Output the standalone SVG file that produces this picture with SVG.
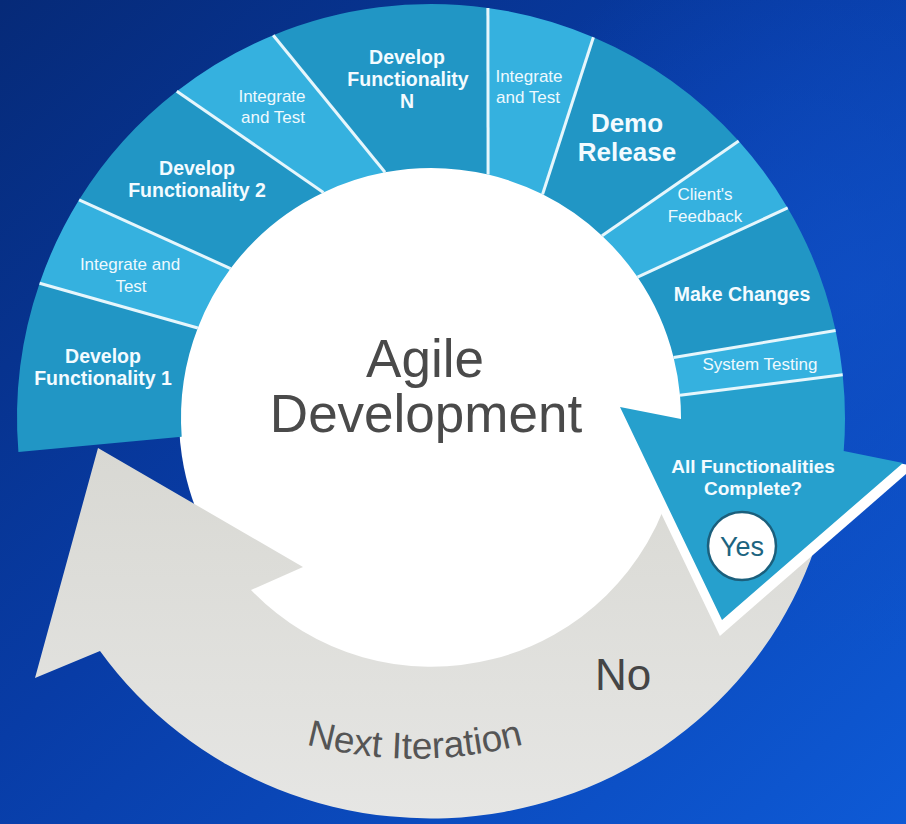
<svg xmlns="http://www.w3.org/2000/svg" width="906" height="824" viewBox="0 0 906 824">
<defs>
<linearGradient id="bg" x1="0" y1="0" x2="1" y2="1">
<stop offset="0" stop-color="#062a78"/>
<stop offset="0.45" stop-color="#083ca6"/>
<stop offset="1" stop-color="#0e5ad6"/>
</linearGradient>
<radialGradient id="glow" cx="0.95" cy="0.35" r="0.45">
<stop offset="0" stop-color="#1050c8" stop-opacity="0.7"/>
<stop offset="1" stop-color="#1050c8" stop-opacity="0"/>
</radialGradient>
<linearGradient id="gray" x1="0" y1="0" x2="0" y2="1">
<stop offset="0" stop-color="#d8d8d3"/>
<stop offset="1" stop-color="#e6e6e4"/>
</linearGradient>
<style>
.dark{fill:#2196c5}
.light{fill:#35b1df}
.sep{stroke:#e6f6fc;stroke-width:3;fill:none}
.b{font-family:"Liberation Sans",Arial,sans-serif;font-weight:bold;fill:#f3fbff;text-anchor:middle;font-size:19.5px}
.s{font-family:"Liberation Sans",Arial,sans-serif;fill:#eef9fe;text-anchor:middle;font-size:17px}
.big{font-family:"Liberation Sans",Arial,sans-serif;fill:#4a4a4a;text-anchor:middle;font-size:53px}
</style>
</defs>
<rect width="906" height="824" fill="url(#bg)"/>
<rect width="906" height="824" fill="url(#glow)"/>
<circle cx="431" cy="418" r="252" fill="#ffffff"/>
<g id="connectors">
<path id="next-iteration-arrow" d="M251,590 L303,567 L98,448 L35,678 L100,651 A405 396 0 0 0 823,521 L672.5,482.7 A250 250 0 0 1 251,590 Z" fill="url(#gray)"/>
</g>
<polygon points="609.7,406 915,466.3 719.9,635.9" fill="#ffffff"/>
<g id="ring">
<g id="develop-1"><path class="dark" d="M18.4,451.9 A414 414 0 0 1 39.6,283.2 L197.8,328 A250 250 0 0 0 181.7,436.7 Z"/>
<text class="b" x="103" y="363">Develop</text><text class="b" x="103" y="385">Functionality 1</text></g>
<g id="integrate-1"><path class="light" d="M39.6,283.2 A414 414 0 0 1 79.1,199.8 L230.6,268.6 A250 250 0 0 0 197.8,328 Z"/>
<text class="s" x="130" y="270">Integrate and</text><text class="s" x="131" y="292">Test</text></g>
<g id="develop-2"><path class="dark" d="M79.1,199.8 A414 414 0 0 1 176.8,91.3 L323.4,192.4 A250 250 0 0 0 230.6,268.6 Z"/>
<text class="b" x="197" y="175">Develop</text><text class="b" x="197" y="197">Functionality 2</text></g>
<g id="integrate-2"><path class="light" d="M176.8,91.3 A414 414 0 0 1 273.2,35.2 L385,172.3 A250 250 0 0 0 323.4,192.4 Z"/>
<text class="s" x="272" y="102">Integrate</text><text class="s" x="273" y="123">and Test</text></g>
<g id="develop-n"><path class="dark" d="M273.2,35.2 A414 414 0 0 1 487.9,7.9 L488.1,174.6 A250 250 0 0 0 385,172.3 Z"/>
<text class="b" x="407" y="64">Develop</text><text class="b" x="408" y="86">Functionality</text><text class="b" x="407" y="108">N</text></g>
<g id="integrate-n"><path class="light" d="M487.9,7.9 A414 414 0 0 1 593.4,37.2 L542.6,194.3 A250 250 0 0 0 488.1,174.6 Z"/>
<text class="s" x="529" y="82">Integrate</text><text class="s" x="528" y="103">and Test</text></g>
<g id="demo-release"><path class="dark" d="M593.4,37.2 A414 414 0 0 1 738.7,141 L602,235.7 A250 250 0 0 0 542.6,194.3 Z"/>
<text class="b" style="font-size:26px" x="627" y="132">Demo</text><text class="b" style="font-size:26px" x="627" y="161">Release</text></g>
<g id="client-feedback"><path class="light" d="M738.7,141 A414 414 0 0 1 787.7,207.9 L637.5,277.1 A250 250 0 0 0 602,235.7 Z"/>
<text class="s" x="705" y="200">Client's</text><text class="s" x="705" y="222">Feedback</text></g>
<g id="make-changes"><path class="dark" d="M787.7,207.9 A414 414 0 0 1 835.6,330.5 L673.6,357.5 A250 250 0 0 0 637.5,277.1 Z"/>
<text class="b" x="742" y="301">Make Changes</text></g>
<g id="system-testing"><path class="light" d="M835.6,330.5 A414 414 0 0 1 842.7,374.7 L680,395.3 A250 250 0 0 0 673.6,357.5 Z"/>
<text class="s" x="760" y="370">System Testing</text></g>
<g id="all-complete"><path d="M842.7,374.7 A414 414 0 0 1 843.7,451 L903,463 L722,620 L620,407 L681,419 A250 250 0 0 0 680,395.3 Z" fill="#26a0cd"/>
<text class="b" style="font-size:19px" x="753" y="473">All Functionalities</text><text class="b" style="font-size:19px" x="753" y="495">Complete?</text></g>
</g>
<g id="separators">
<line class="sep" x1="39.6" y1="283.2" x2="197.8" y2="328"/>
<line class="sep" x1="79.1" y1="199.8" x2="230.6" y2="268.6"/>
<line class="sep" x1="176.8" y1="91.3" x2="323.4" y2="192.4"/>
<line class="sep" x1="273.2" y1="35.2" x2="385" y2="172.3"/>
<line class="sep" x1="487.9" y1="7.9" x2="488.1" y2="174.6"/>
<line class="sep" x1="593.4" y1="37.2" x2="542.6" y2="194.3"/>
<line class="sep" x1="738.7" y1="141" x2="602" y2="235.7"/>
<line class="sep" x1="787.7" y1="207.9" x2="637.5" y2="277.1"/>
<line class="sep" x1="835.6" y1="330.5" x2="673.6" y2="357.5"/>
<line class="sep" x1="842.7" y1="374.7" x2="680" y2="395.3"/>
</g>
<g id="yes">
<circle cx="742" cy="546" r="34" fill="#ffffff" stroke="#1b5f7c" stroke-width="2.5"/>
<text x="742" y="556" text-anchor="middle" font-family="Liberation Sans, Arial, sans-serif" font-size="27" fill="#1d6480">Yes</text>
</g>
<g id="center">
<text class="big" x="425" y="377">Agile</text>
<text class="big" x="426" y="432">Development</text>
</g>
<g id="no"><text x="623" y="690" text-anchor="middle" font-family="Liberation Sans, Arial, sans-serif" font-size="44" fill="#454545">No</text></g>
<g id="next-iteration-label">
<path id="tp" d="M282,737 A420 420 0 0 0 548,737" fill="none"/>
<text font-family="Liberation Sans, Arial, sans-serif" font-size="37" fill="#555555" text-anchor="middle"><textPath href="#tp" startOffset="50%">Next Iteration</textPath></text>
</g>
</svg>
